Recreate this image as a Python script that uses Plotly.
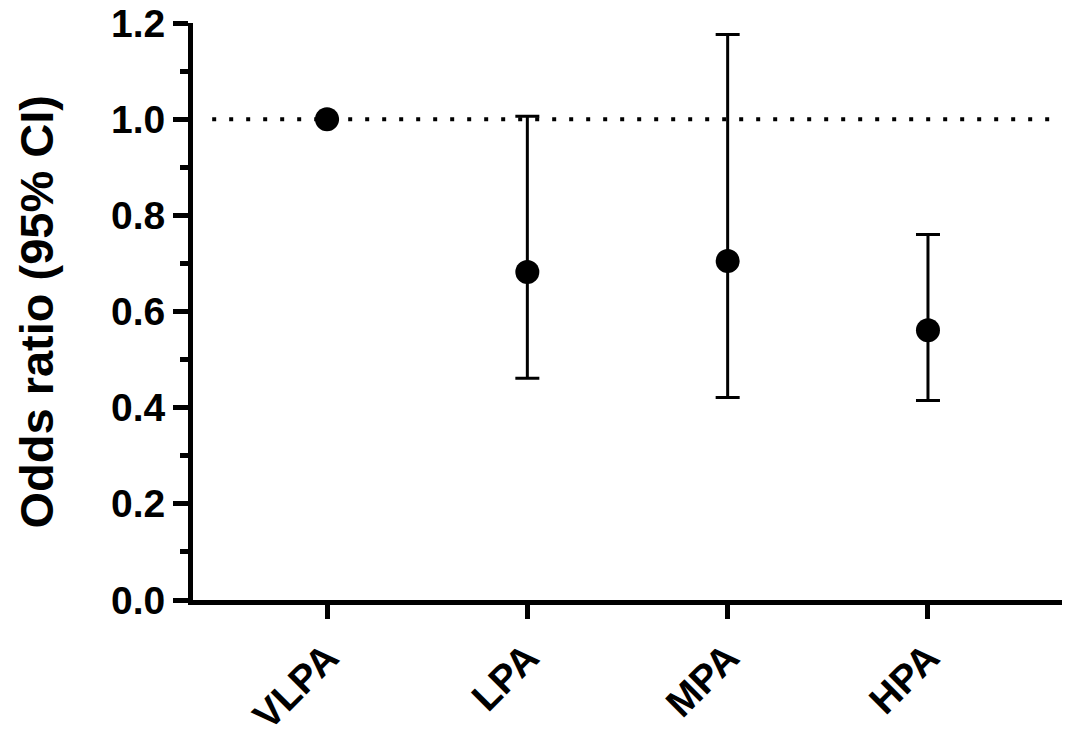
import plotly.graph_objects as go

categories = ["VLPA", "LPA", "MPA", "HPA"]
odds_ratio = [1.0, 0.682, 0.705, 0.561]
ci_lower = [None, 0.461, 0.421, 0.415]
ci_upper = [None, 1.006, 1.176, 0.760]
reference_line = 1.0
y_ticks = [0.0, 0.2, 0.4, 0.6, 0.8, 1.0, 1.2]

err_plus = [None if u is None else u - o for u, o in zip(ci_upper, odds_ratio)]
err_minus = [None if l is None else o - l for l, o in zip(ci_lower, odds_ratio)]

FONT = "Liberation Sans, Arial, sans-serif"

fig = go.Figure()
fig.add_trace(go.Scatter(
    x=categories, y=odds_ratio, mode="markers",
    marker=dict(size=24, color="black"),
    error_y=dict(type="data", symmetric=False, array=err_plus, arrayminus=err_minus,
                 color="black", thickness=3, width=12),
    showlegend=False,
))

fig.add_shape(type="line", xref="paper", yref="y", x0=0.022, x1=1, y0=reference_line, y1=reference_line,
              line=dict(color="black", width=4, dash="4px,13px"), layer="below")

fig.update_layout(
    width=1062, height=726,
    margin=dict(l=185, r=5, t=15, b=134),
    plot_bgcolor="white", paper_bgcolor="white",
    font=dict(family=FONT, color="black"),
    xaxis=dict(
        type="category", range=[-0.669, 3.684], automargin=False,
        ticklabeloverflow="allow",
        showline=True, linewidth=5, linecolor="black",
        ticks="outside", ticklen=14, tickwidth=5, tickcolor="black",
        tickangle=-45, tickfont=dict(size=39, family=FONT, weight="bold"),
        showgrid=False, zeroline=False,
    ),
    yaxis=dict(
        range=[0, 1.2], tickvals=y_ticks, tickformat=".1f", automargin=False,
        ticklabeloverflow="allow",
        showline=True, linewidth=5, linecolor="black",
        ticks="outside", ticklen=15, tickwidth=5, tickcolor="black",
        tickfont=dict(size=39, family=FONT, weight="bold"),
        minor=dict(ticks="outside", ticklen=8, tickwidth=5, tickcolor="black", dtick=0.1, showgrid=False),
        showgrid=False, zeroline=False,
    ),
    annotations=[dict(
        text="Odds ratio (95% CI)", textangle=-90, xref="paper", yref="paper",
        x=(36 - 193) / 872, y=0.5, xanchor="center", yanchor="middle", showarrow=False,
        font=dict(size=47, family=FONT, weight="bold", color="black"),
    )],
)

fig.write_html("out.html")
